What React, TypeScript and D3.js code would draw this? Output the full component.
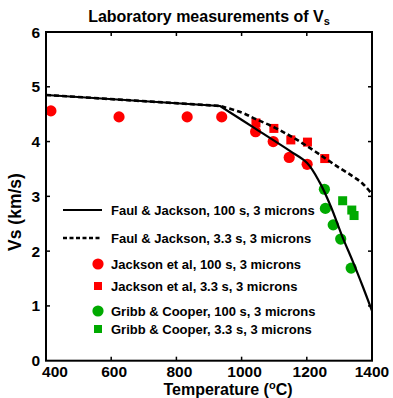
import React from "react";
import * as d3 from "d3";

const xTicks = [400, 600, 800, 1000, 1200, 1400];
const yTicks = [0, 1, 2, 3, 4, 5, 6];

const faul100T = [400, 934, 1041, 1148, 1201, 1240, 1274, 1308, 1342, 1372, 1400];
const faul100V = [4.85, 4.65, 4.24, 3.83, 3.61, 3.25, 2.81, 2.28, 1.8, 1.35, 0.91];

const faul33T = [400, 934, 1000, 1044, 1100, 1150, 1200, 1255, 1300, 1340, 1370, 1400];
const faul33V = [4.85, 4.65, 4.53, 4.41, 4.26, 4.1, 3.92, 3.7, 3.52, 3.37, 3.24, 3.04];

const jack100T = [415, 624, 833, 939, 1043, 1097, 1146, 1201];
const jack100V = [4.56, 4.45, 4.45, 4.45, 4.18, 4.0, 3.71, 3.585];

const jack33T = [1044, 1099, 1151, 1202, 1255];
const jack33V = [4.34, 4.24, 4.03, 3.99, 3.69];

const gribb100T = [1254, 1257, 1281, 1304, 1336];
const gribb100V = [3.13, 2.78, 2.48, 2.22, 1.69];

const gribb33T = [1310, 1338, 1345];
const gribb33V = [2.92, 2.75, 2.65];

const legendLabels = [
  "Faul & Jackson, 100 s, 3 microns",
  "Faul & Jackson, 3.3 s, 3 microns",
  "Jackson et al, 100 s, 3 microns",
  "Jackson et al, 3.3 s, 3 microns",
  "Gribb & Cooper, 100 s, 3 microns",
  "Gribb & Cooper, 3.3 s, 3 microns",
];

const RED = "#ff0000";
const GREEN = "#00aa00";
const FONT = "'Liberation Sans', Arial, sans-serif";

export default function App() {
  const W = 393;
  const H = 398;
  const left = 46;
  const right = 372;
  const top = 32;
  const bottom = 360.7;

  const x = d3.scaleLinear().domain([400, 1400]).range([left, right]);
  const y = d3.scaleLinear().domain([0, 6]).range([bottom, top]);

  // first segment straight, then smooth curve from the kink
  const curve = d3
    .line<[number, number]>()
    .x((d) => x(d[0]))
    .y((d) => y(d[1]))
    .curve(d3.curveCatmullRom.alpha(0.5));
  const buildPath = (T: number[], V: number[]) => {
    const pts = T.map((t, i) => [t, V[i]] as [number, number]);
    const head = `M${x(pts[0][0])},${y(pts[0][1])}L`;
    const tail = (curve(pts.slice(1)) || "").replace(/^M/, "");
    return head + tail;
  };

  const solidPath = buildPath(faul100T, faul100V);
  const dashPath = buildPath(faul33T, faul33V);

  const circles = (T: number[], V: number[], color: string, key: string) =>
    T.map((t, i) => <circle key={key + i} cx={x(t)} cy={y(V[i])} r={5.6} fill={color} />);
  const squares = (T: number[], V: number[], color: string, key: string) =>
    T.map((t, i) => (
      <rect key={key + i} x={x(t) - 4.5} y={y(V[i]) - 4.5} width={9} height={9} fill={color} />
    ));

  const legendY = [210, 238, 264, 286, 311, 329];
  const legendTextX = 111;

  return (
    <svg
      width={W}
      height={H}
      style={{ position: "absolute", left: 0, top: 0, background: "#fff" }}
      fontFamily={FONT}
      fontWeight="bold"
    >
      <rect x={0} y={0} width={W} height={H} fill="#fff" />
      {/* title */}
      <text x={209} y={21.5} textAnchor="middle" fontSize={16}>
        Laboratory measurements of V
        <tspan fontSize={11} dy={3}>s</tspan>
      </text>

      {/* markers */}
      {circles(jack100T, jack100V, RED, "jc")}
      {squares(jack33T, jack33V, RED, "js")}
      {circles(gribb100T, gribb100V, GREEN, "gc")}
      {squares(gribb33T, gribb33V, GREEN, "gs")}

      {/* lines */}
      <path d={solidPath} fill="none" stroke="#000" strokeWidth={2.2} />
      <path d={dashPath} fill="none" stroke="#000" strokeWidth={2.6} strokeDasharray="5,3" />

      {/* axes frame */}
      <rect x={left} y={top} width={right - left} height={bottom - top} fill="none" stroke="#000" strokeWidth={2} />

      {/* x ticks */}
      {xTicks.slice(1, -1).map((t) => (
        <g key={"xt" + t}>
          <line x1={x(t)} x2={x(t)} y1={bottom} y2={bottom - 4} stroke="#000" strokeWidth={1.5} />
          <line x1={x(t)} x2={x(t)} y1={top} y2={top + 4} stroke="#000" strokeWidth={1.5} />
        </g>
      ))}
      {xTicks.map((t) => (
        <text key={"xl" + t} x={x(t) + (t === 400 ? 9 : t === 1400 ? 0 : 3)} y={376.5} textAnchor="middle" fontSize={15.5}>
          {t}
        </text>
      ))}

      {/* y ticks */}
      {yTicks.slice(1, -1).map((v) => (
        <g key={"yt" + v}>
          <line x1={left} x2={left + 4} y1={y(v)} y2={y(v)} stroke="#000" strokeWidth={1.5} />
          <line x1={right} x2={right - 4} y1={y(v)} y2={y(v)} stroke="#000" strokeWidth={1.5} />
        </g>
      ))}
      {yTicks.map((v) => (
        <text key={"yl" + v} x={40} y={y(v) + 5.5} textAnchor="end" fontSize={15.5}>
          {v}
        </text>
      ))}

      {/* axis titles */}
      <text x={228} y={395} textAnchor="middle" fontSize={16}>
        Temperature  (<tspan fontSize={11} dy={-6}>o</tspan>
        <tspan dy={6}>C)</tspan>
      </text>
      <text transform={`translate(21, 212) rotate(-90)`} textAnchor="middle" fontSize={17.5}>
        Vs (km/s)
      </text>

      {/* legend */}
      <line x1={63} x2={102} y1={legendY[0]} y2={legendY[0]} stroke="#000" strokeWidth={2.2} />
      <line x1={63} x2={102} y1={legendY[1]} y2={legendY[1]} stroke="#000" strokeWidth={2.6} strokeDasharray="4,2.5" />
      <circle cx={98} cy={legendY[2]} r={5.6} fill={RED} />
      <rect x={94} y={legendY[3] - 4} width={8} height={8} fill={RED} />
      <circle cx={98} cy={legendY[4]} r={5.6} fill={GREEN} />
      <rect x={94} y={legendY[5] - 4} width={8} height={8} fill={GREEN} />
      {legendLabels.map((l, i) => (
        <text key={"lg" + i} x={legendTextX} y={legendY[i] + 4.6} fontSize={13}>
          {l}
        </text>
      ))}
    </svg>
  );
}
